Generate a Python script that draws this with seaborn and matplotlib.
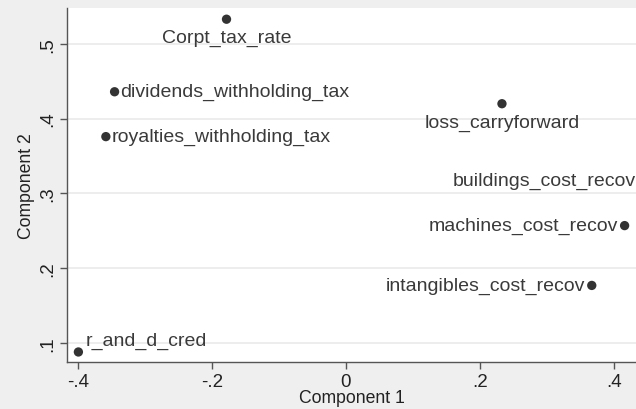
import matplotlib
matplotlib.use("Agg")
import matplotlib.pyplot as plt
import seaborn as sns
import pandas as pd

# Loadings on the first two principal components
variables = ["Corpt_tax_rate", "dividends_withholding_tax", "royalties_withholding_tax",
             "loss_carryforward", "buildings_cost_recov", "machines_cost_recov",
             "intangibles_cost_recov", "r_and_d_cred"]
component1 = [-0.178, -0.345, -0.358, 0.233, 0.443, 0.416, 0.367, -0.399]
component2 = [0.533, 0.436, 0.376, 0.420, 0.318, 0.257, 0.177, 0.088]
# label placement relative to each marker
label_pos = ["below", "right", "right", "below", "left", "left", "left", "upright"]

x_ticks = [-0.4, -0.2, 0, 0.2, 0.4]
x_ticklabels = ["-.4", "-.2", "0", ".2", ".4"]
y_ticks = [0.1, 0.2, 0.3, 0.4, 0.5]
y_ticklabels = [".1", ".2", ".3", ".4", ".5"]

df = pd.DataFrame({"var": variables, "c1": component1, "c2": component2, "pos": label_pos})

sns.set_theme(style="white")
plt.rcParams["font.family"] = ["Liberation Sans", "DejaVu Sans"]

bg = "#efefef"
ink = "#3a3a3a"
fig = plt.figure(figsize=(6.36, 4.10), dpi=100, facecolor=bg)
ax = fig.add_axes([67 / 636, 47 / 410, 1 - 67 / 636, (363 - 9) / 410])
ax.set_facecolor("white")

sns.scatterplot(data=df, x="c1", y="c2", ax=ax, color="#333333", s=45,
                edgecolor="none", legend=False)

offsets = {
    "below": ((0, -7), "center", "top"),
    "right": ((4, 0), "left", "center"),
    "left": ((-5, 0), "right", "center"),
    "upright": ((5, 2), "left", "bottom"),
}
for _, row in df.iterrows():
    (dx, dy), ha, va = offsets[row["pos"]]
    ax.annotate(row["var"], (row["c1"], row["c2"]), xytext=(dx, dy),
                textcoords="offset points", ha=ha, va=va, fontsize=14,
                color=ink, annotation_clip=False)

ax.set_xlim(-0.416, 0.433)
ax.set_ylim(0.0746, 0.548)
ax.set_xticks(x_ticks)
ax.set_xticklabels(x_ticklabels)
ax.set_yticks(y_ticks)
ax.set_yticklabels(y_ticklabels, rotation=90, va="center")
ax.grid(axis="y", color="#eaeaea", linewidth=1.2)
ax.grid(axis="x", visible=False)
ax.set_axisbelow(True)

for side in ["top", "right"]:
    ax.spines[side].set_visible(False)
for side in ["left", "bottom"]:
    ax.spines[side].set_color("#555555")
    ax.spines[side].set_linewidth(1.0)

ax.tick_params(axis="both", which="major", length=5, width=1, color="#555555",
               labelsize=13.5, labelcolor="#222222", direction="out",
               bottom=True, left=True, pad=3)
ax.set_xlabel("Component 1", fontsize=12.7, color="#222222", labelpad=-1)
ax.set_ylabel("Component 2", fontsize=12.7, color="#222222", labelpad=3)

fig.savefig("out.png", dpi=100, facecolor=bg)
